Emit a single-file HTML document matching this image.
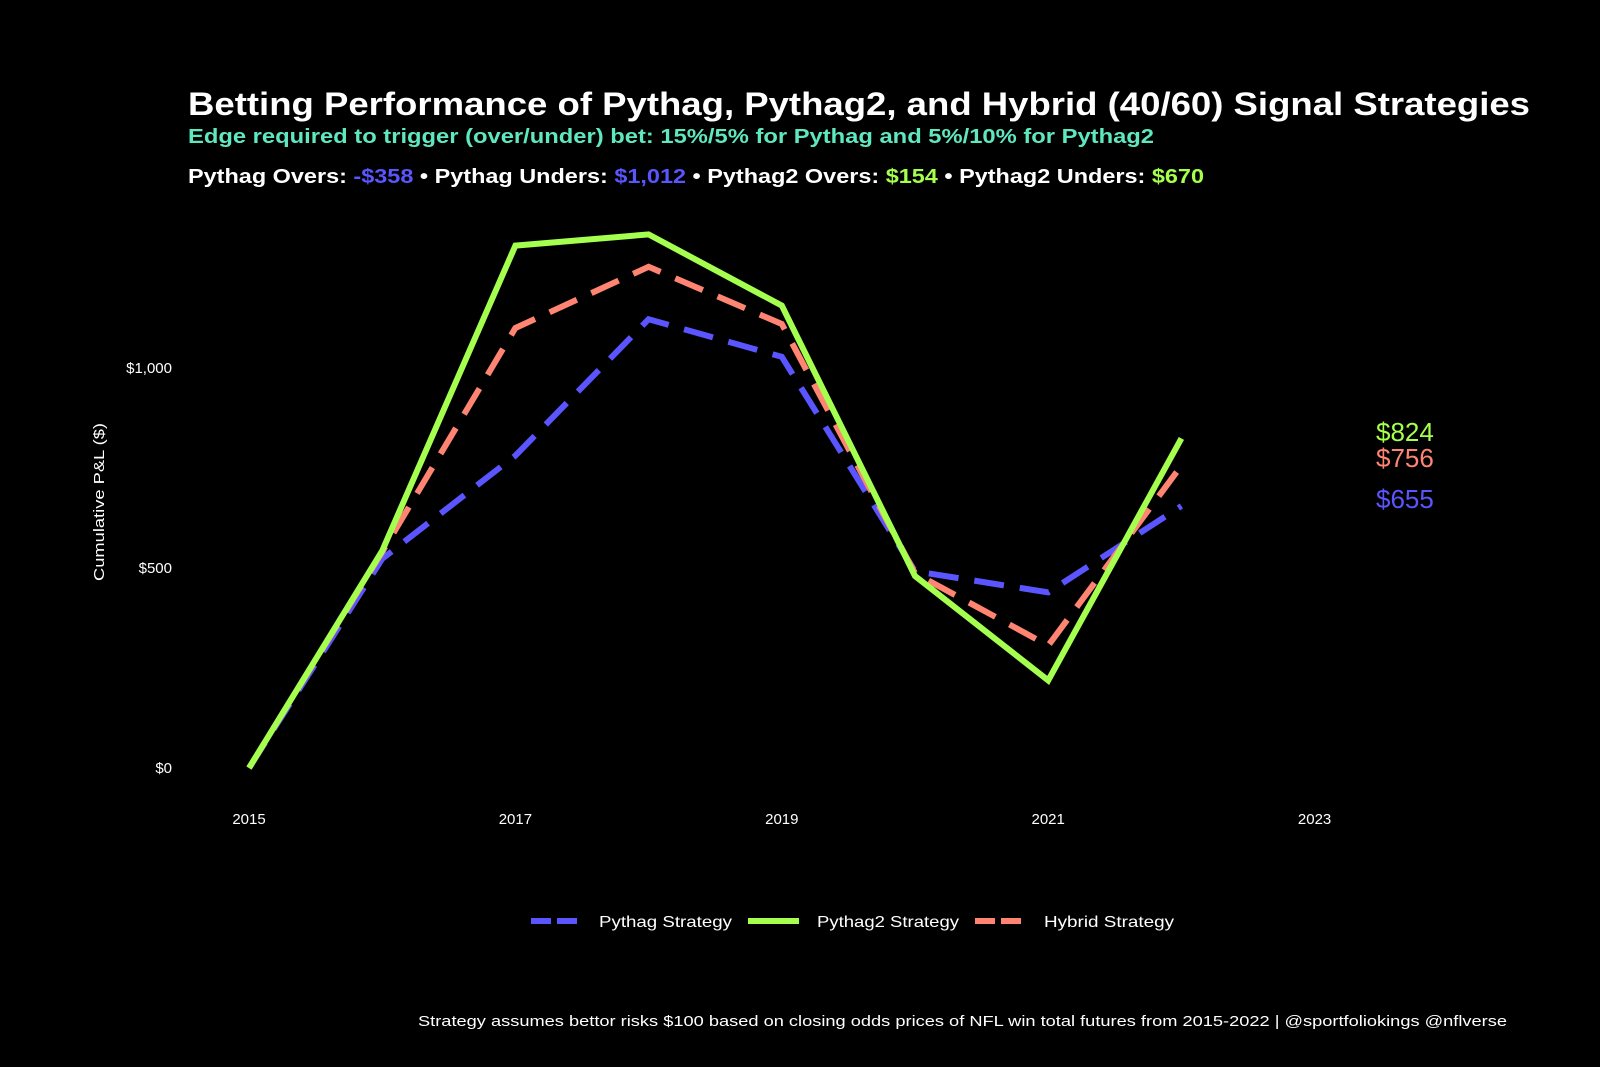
<!DOCTYPE html>
<html><head><meta charset="utf-8"><style>
html,body{margin:0;padding:0;background:#000;}
svg{display:block;font-family:"Liberation Sans",sans-serif;}
</style></head><body>
<svg id="chart" width="1600" height="1067" viewBox="0 0 1600 1067">
<rect width="1600" height="1067" fill="#000"/>
<text x="188" y="115" font-size="32" font-weight="bold" fill="#fff" textLength="1342" lengthAdjust="spacingAndGlyphs">Betting Performance of Pythag, Pythag2, and Hybrid (40/60) Signal Strategies</text>
<text x="188" y="143" font-size="20" font-weight="bold" fill="#5fe8bf" textLength="966" lengthAdjust="spacingAndGlyphs">Edge required to trigger (over/under) bet: 15%/5% for Pythag and 5%/10% for Pythag2</text>
<text x="188" y="183" font-size="20" font-weight="bold" fill="#fff" textLength="1016" lengthAdjust="spacingAndGlyphs">Pythag Overs:  <tspan fill="#5a55ff">-$358</tspan> • Pythag Unders:  <tspan fill="#5a55ff">$1,012</tspan> • Pythag2 Overs:  <tspan fill="#a4ff4f">$154</tspan> • Pythag2 Unders:  <tspan fill="#a4ff4f">$670</tspan></text>
<g id="axes"></g>
<g id="series"></g>
<text transform="translate(104,502) rotate(-90)" text-anchor="middle" font-size="15" fill="#fff" textLength="158" lengthAdjust="spacingAndGlyphs">Cumulative P&amp;L ($)</text>
<g>
<line x1="531" y1="921" x2="582" y2="921" stroke="#5a55ff" stroke-width="6" stroke-dasharray="20,6"/>
<text x="599" y="927" font-size="16" fill="#fff" textLength="133" lengthAdjust="spacingAndGlyphs">Pythag Strategy</text>
<line x1="748" y1="921" x2="799" y2="921" stroke="#a4ff4f" stroke-width="6"/>
<text x="817" y="927" font-size="16" fill="#fff" textLength="142" lengthAdjust="spacingAndGlyphs">Pythag2 Strategy</text>
<line x1="975" y1="921" x2="1026" y2="921" stroke="#ff8472" stroke-width="6" stroke-dasharray="20,6"/>
<text x="1044" y="927" font-size="16" fill="#fff" textLength="130" lengthAdjust="spacingAndGlyphs">Hybrid Strategy</text>
</g>
<text x="418" y="1026" font-size="15" fill="#fff" textLength="1089" lengthAdjust="spacingAndGlyphs">Strategy assumes bettor risks $100 based on closing odds prices of NFL win total futures from 2015-2022 | @sportfoliokings @nflverse</text>
</svg>
<script>
const years = [2015,2016,2017,2018,2019,2020,2021,2022];
const pythag = [0,523,781,1122,1028,492,439,655];
const pythag2 = [0,543,1306,1334,1156,480,219,824];
const hybrid = [0,540,1100,1253,1110,487,306,756];
const xTicks = [2015,2017,2019,2021,2023];
const yTicks = [0,500,1000];
const yTickLabels = ["$0","$500","$1,000"];

const NS="http://www.w3.org/2000/svg";
function x(v){return 249+(v-2015)*133.2;}
function y(v){return 768-v*0.4;}
function mk(tag,attrs,parent){const e=document.createElementNS(NS,tag);for(const k in attrs)e.setAttribute(k,attrs[k]);parent.appendChild(e);return e;}
const axes=document.getElementById('axes');
xTicks.forEach(t=>{
  const e=mk('text',{x:x(t),y:824,'text-anchor':'middle','font-size':15,fill:'#fff'},axes);
  
  
  e.textContent=t;
});
yTicks.forEach((t,i)=>{
  const e=mk('text',{x:172,y:y(t)+5,'text-anchor':'end','font-size':15,fill:'#fff'},axes);
  
  
  e.textContent=yTickLabels[i];
});
const ser=document.getElementById('series');
const defs=[
 {d:pythag2,c:'#a4ff4f',dash:null,name:'pythag2-line',ly:431},
 {d:hybrid,c:'#ff8472',dash:'30,16',name:'hybrid-line',ly:457},
 {d:pythag,c:'#5a55ff',dash:'30,16',name:'pythag-line',ly:498}
];
[defs[2],defs[1],defs[0]].forEach(s=>{
  const pts=years.map((yr,i)=>x(yr)+','+y(s.d[i])).join(' ');
  const a={points:pts,fill:'none',stroke:s.c,'stroke-width':6,'stroke-linejoin':'miter'};
  if(s.dash)a['stroke-dasharray']=s.dash;
  const p=mk('polyline',a,ser);
  
  
});
defs.forEach(s=>{
  const v=s.d[s.d.length-1];
  const t=mk('text',{x:1376,y:s.ly+10,'font-size':26,fill:s.c},ser);
  
  
  t.textContent='$'+v;
});
</script>
</body></html>
